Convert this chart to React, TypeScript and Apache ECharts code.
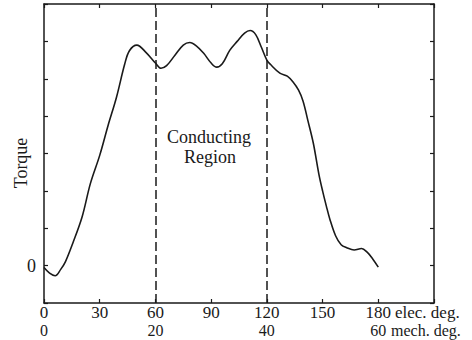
import React, { useEffect, useRef } from "react";
import * as echarts from "echarts";

const elecDeg = [0, 3, 6, 9, 11.5, 15.5, 20.5, 25, 30, 34.5, 39, 43.5, 46, 50, 55, 60, 63, 66, 70.5, 75, 78.5, 82, 86, 90, 93, 96, 100, 104, 108, 111, 114, 117, 120, 122, 127, 131, 134, 137, 139.5, 142, 145, 148, 150, 152, 154, 157, 160, 163, 167, 171, 174, 177, 180];
const torque = [-0.05, -0.2, -0.27, -0.1, 0.1, 0.6, 1.3, 2.2, 2.95, 3.75, 4.5, 5.4, 5.75, 5.9, 5.7, 5.42, 5.28, 5.35, 5.63, 5.9, 5.97, 5.88, 5.68, 5.42, 5.31, 5.4, 5.76, 6.0, 6.22, 6.29, 6.18, 5.85, 5.5, 5.38, 5.15, 5.07, 4.92, 4.7, 4.4, 3.9, 3.28, 2.45, 2.0, 1.6, 1.23, 0.8, 0.56, 0.48, 0.42, 0.46, 0.36, 0.18, -0.04];
const conductingBounds = [60, 120];
const elecTickLabels = [0, 30, 60, 90, 120, 150, 180];
const mechTickLabels = [0, 20, 40, 60];

const FONT = "'Liberation Serif', 'DejaVu Serif', serif";
const INK = "#1a1a1a";

export default function App() {
  const ref = useRef<HTMLDivElement>(null);
  useEffect(() => {
    if (!ref.current) return;
    const chart = echarts.init(ref.current, null, { renderer: "svg" });
    const axisLine = { show: true, onZero: false, lineStyle: { color: INK, width: 1.5 } };
    const tick = { show: true, inside: true, length: 4, lineStyle: { color: INK, width: 1.2 } };
    chart.setOption({
      animation: false,
      backgroundColor: "#ffffff",
      grid: { left: 44, right: 38, top: 4, bottom: 37, containLabel: false, outerBoundsMode: "none" },
      xAxis: [
        {
          type: "value", min: 0, max: 210, interval: 30, position: "bottom",
          axisLine, axisTick: tick, splitLine: { show: false },
          axisLabel: {
            margin: 1, fontFamily: FONT, fontSize: 17, lineHeight: 16, color: INK,
            formatter: (v: number) => (elecTickLabels.includes(v) ? String(v) : ""),
          },
        },
        {
          type: "value", min: 0, max: 210, interval: 30, position: "top",
          axisLine, axisTick: tick, splitLine: { show: false }, axisLabel: { show: false },
        },
        {
          type: "value", min: 0, max: 70, interval: 20, position: "bottom", offset: 18,
          axisLine: { show: false, onZero: false }, axisTick: { show: false }, splitLine: { show: false },
          axisLabel: {
            margin: 1.5, fontFamily: FONT, fontSize: 16, lineHeight: 16, color: INK,
            formatter: (v: number) => (mechTickLabels.includes(v) ? String(v) : ""),
          },
        },
      ],
      yAxis: [
        {
          type: "value", min: -1, max: 7, interval: 1, position: "left",
          axisLine, axisTick: tick, splitLine: { show: false },
          axisLabel: { margin: 8, fontFamily: FONT, fontSize: 18, color: INK, formatter: (v: number) => (v === 0 ? "0" : "") },
        },
        {
          type: "value", min: -1, max: 7, interval: 1, position: "right",
          axisLine, axisTick: tick, splitLine: { show: false }, axisLabel: { show: false },
        },
      ],
      series: [
        {
          type: "line", xAxisIndex: 0, yAxisIndex: 0,
          data: elecDeg.map((x, i) => [x, torque[i]]),
          smooth: 0.35, showSymbol: false,
          lineStyle: { color: INK, width: 1.6 },
          markLine: {
            symbol: "none", silent: true, label: { show: false },
            lineStyle: { color: INK, width: 1.5, type: [9, 4] },
            data: conductingBounds.map((x) => ({ xAxis: x })),
          },
        },
      ],
      graphic: [
        {
          type: "text", x: 21, y: 163, rotation: Math.PI / 2,
          style: { text: "Torque", fontFamily: FONT, fontSize: 18, fill: INK, align: "center", verticalAlign: "middle" },
        },
        {
          type: "text", left: 167, top: 128,
          style: { text: "Conducting", fontFamily: FONT, fontSize: 18, fill: INK },
        },
        {
          type: "text", left: 184, top: 148,
          style: { text: "Region", fontFamily: FONT, fontSize: 18, fill: INK },
        },
        {
          type: "text", left: 395, top: 304,
          style: { text: "elec. deg.", fontFamily: FONT, fontSize: 17, lineHeight: 16, fill: INK },
        },
        {
          type: "text", left: 391, top: 322.5,
          style: { text: "mech. deg.", fontFamily: FONT, fontSize: 16, lineHeight: 16, fill: INK },
        },
      ],
    });
    return () => chart.dispose();
  }, []);
  return <div ref={ref} style={{ width: 472, height: 340, position: "absolute", left: 0, top: 0 }} />;
}
